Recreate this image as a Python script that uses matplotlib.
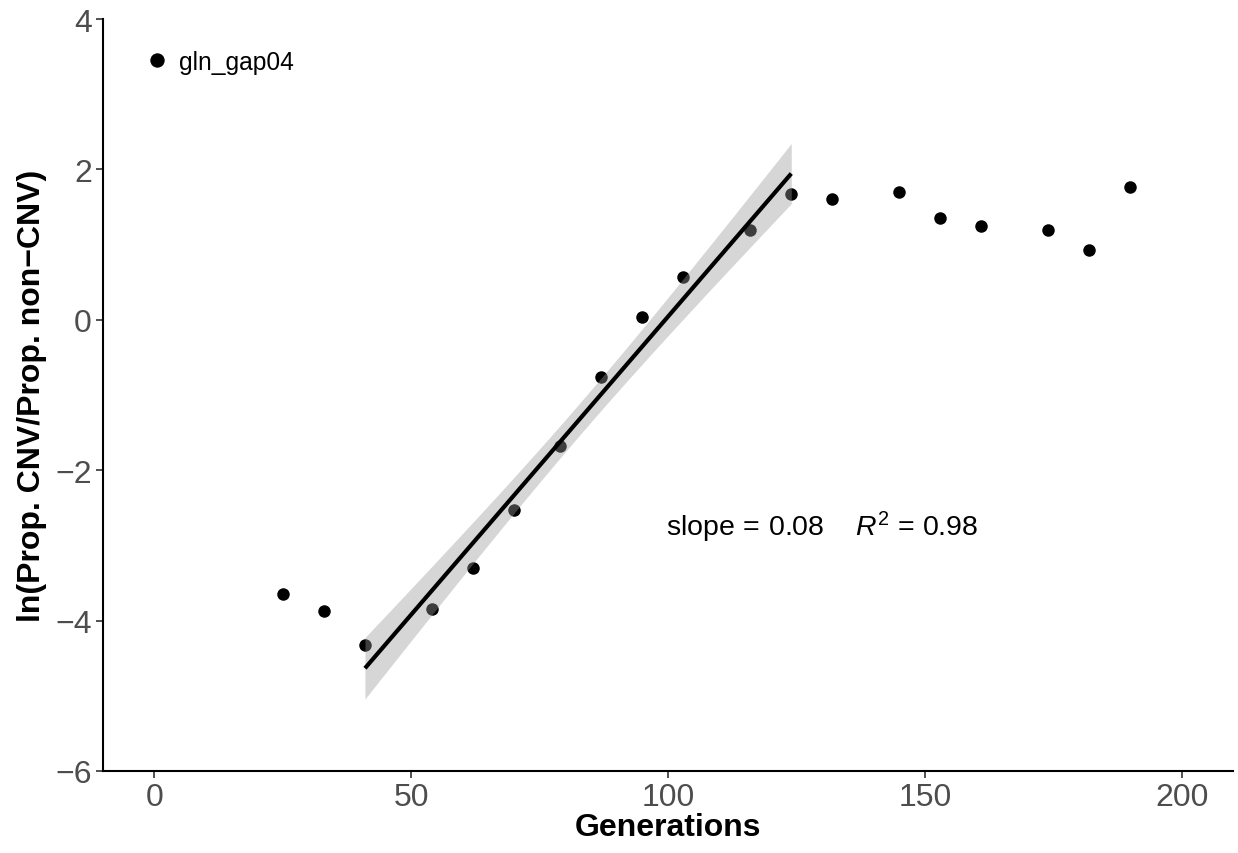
import matplotlib
matplotlib.use('Agg')
import matplotlib.pyplot as plt
import numpy as np

plt.rcParams['font.family'] = ['Liberation Sans', 'DejaVu Sans']
plt.rcParams['mathtext.fontset'] = 'custom'
plt.rcParams['mathtext.rm'] = 'Liberation Sans'
plt.rcParams['mathtext.it'] = 'Liberation Sans:italic'

generations = [25, 33, 41, 54, 62, 70, 79, 87, 95, 103, 116, 124, 132, 145, 153, 161, 174, 182, 190]
log_ratio = [-3.65, -3.87, -4.33, -3.84, -3.30, -2.53, -1.68, -0.76, 0.04, 0.57, 1.19, 1.67,
             1.60, 1.70, 1.36, 1.25, 1.20, 0.93, 1.77]
fit_start, fit_end = 41, 124
sample_name = 'gln_gap04'


def fit_line(x, y):
    slope, intercept = np.polyfit(x, y, 1)
    pred = slope * x + intercept
    r2 = 1 - np.sum((y - pred) ** 2) / np.sum((y - y.mean()) ** 2)
    n = len(x)
    s = np.sqrt(np.sum((y - pred) ** 2) / (n - 2))
    t_val = 2.306  # t(0.975, df=8)
    grid = np.linspace(x.min(), x.max(), 80)
    se = s * np.sqrt(1.0 / n + (grid - x.mean()) ** 2 / np.sum((x - x.mean()) ** 2))
    fit = slope * grid + intercept
    return slope, r2, grid, fit, fit - t_val * se, fit + t_val * se


def make_plot():
    x = np.array(generations, dtype=float)
    y = np.array(log_ratio, dtype=float)
    keep = (x >= fit_start) & (x <= fit_end)
    slope, r2, grid, fit, lo, hi = fit_line(x[keep], y[keep])

    fig = plt.figure(figsize=(12.38, 8.54), dpi=100)
    ax = fig.add_axes([103 / 1238, 82 / 854, 1130 / 1238, 752 / 854])

    ax.plot(x, y, 'o', color='k', markersize=9, markeredgewidth=0, label=sample_name, zorder=2)
    ax.fill_between(grid, lo, hi, color='#999999', alpha=0.4, linewidth=0, zorder=3)
    ax.plot(grid, fit, color='k', linewidth=3.0, zorder=4, solid_capstyle='butt')

    ax.text(130, -2.75, r'slope$\,=\,$0.08    $R^{2}$ = 0.98', fontsize=20.5, ha='center', va='center')

    ax.set_xlim(-10, 210)
    ax.set_ylim(-6, 4)
    ax.set_xticks([0, 50, 100, 150, 200])
    ax.set_yticks([-6, -4, -2, 0, 2, 4])
    ax.set_yticklabels(['\u22126', '\u22124', '\u22122', '0', '2', '4'])
    ax.tick_params(labelsize=23, labelcolor='#4D4D4D', color='#333333', length=5, width=1.2, pad=3)

    ax.set_xlabel('Generations', fontsize=23, fontweight='bold', labelpad=0)
    ax.set_ylabel('ln(Prop. CNV/Prop. non\u2212CNV)', fontsize=23, fontweight='bold', labelpad=6)

    ax.spines['right'].set_visible(False)
    ax.spines['top'].set_visible(False)
    ax.spines['left'].set_linewidth(1.5)
    ax.spines['bottom'].set_linewidth(1.5)

    leg = ax.legend(loc='upper left', bbox_to_anchor=(0.03, 0.972), frameon=False, fontsize=17.7,
                    handlelength=0.8, handletextpad=0.5, borderaxespad=0, markerscale=1.15)

    plt.savefig('out.png', dpi=100)
    plt.close()


def main():
    make_plot()


if __name__ == '__main__':
    main()
